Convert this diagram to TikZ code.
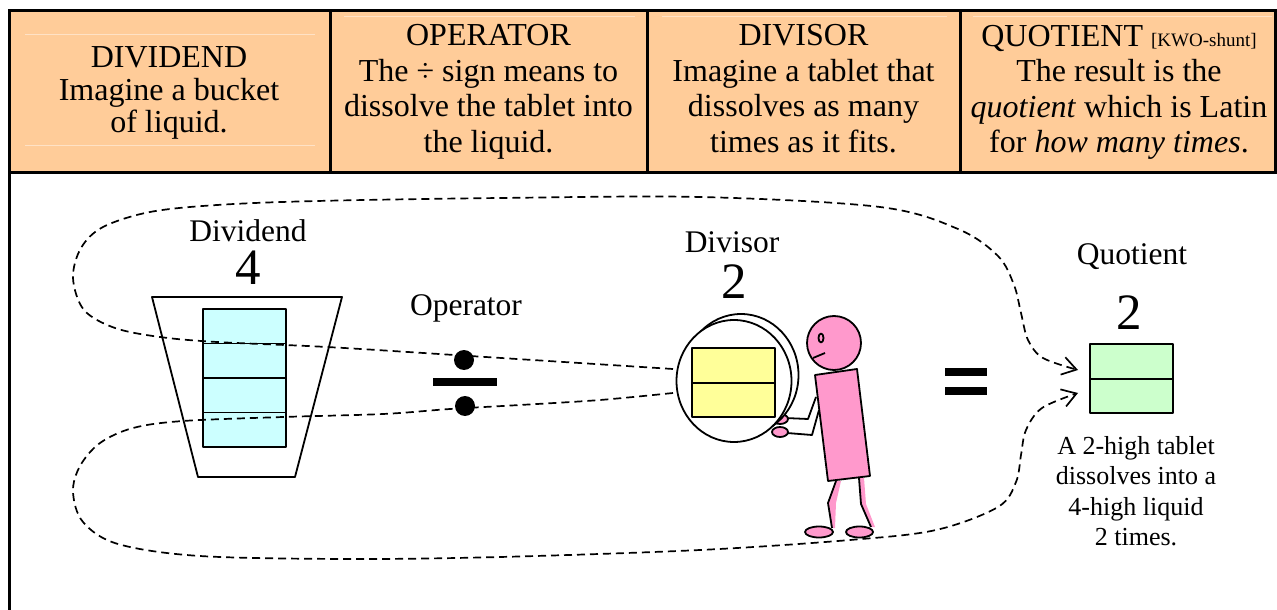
\documentclass[tikz,border=0pt]{standalone}
\usepackage{fontspec}
\setmainfont{Liberation Serif}
\usetikzlibrary{arrows.meta}
\definecolor{peach}{HTML}{FFCC99}
\definecolor{peachline}{HTML}{FFE2C6}
\definecolor{liquid}{HTML}{CCFFFF}
\definecolor{tablet}{HTML}{FFFF99}
\definecolor{result}{HTML}{CCFFCC}
\definecolor{skin}{HTML}{FF99CC}
\begin{document}
\begin{tikzpicture}[x=1bp,y=-1bp,
  hdrtext/.style={align=center, inner sep=0pt, font=\fontsize{32bp}{35.5bp}\selectfont},
  lbl/.style={anchor=base, inner sep=0pt, font=\fontsize{31.5bp}{36bp}\selectfont},
  bignum/.style={anchor=base, inner sep=0pt, font=\fontsize{51bp}{51bp}\selectfont},
  note/.style={align=center, inner sep=0pt, font=\fontsize{26bp}{30.5bp}\selectfont},
  rule/.style={line width=3bp},
  faint/.style={draw=peachline, line width=1bp},
  outline/.style={draw=black, line width=1.8bp, line join=round},
  flow/.style={line width=1.7bp, dash pattern=on 8bp off 5bp,
    -{Straight Barb[length=14bp,width=18bp]}},
]
\useasboundingbox (0,0) rectangle (1277,610);

% ---------- header row ----------
\fill[peach] (9.5,11) rectangle (1275.5,173);
\draw[faint] (25,35) -- (315,35);
\draw[faint] (25,146) -- (315,146);
\draw[faint] (344,17) -- (635,17);
\draw[faint] (662,17) -- (947,17);
\draw[faint] (973,17) -- (1272,17);

\node[hdrtext, font=\fontsize{32bp}{32.5bp}\selectfont] (h1) at (169,93) {DIVIDEND\\Imagine a bucket\\of liquid.};
\node[hdrtext] (h2) at (488.5,92) {OPERATOR\\The ÷ sign means to\\dissolve the tablet into\\the liquid.};
\node[hdrtext] (h3) at (803.5,88.5) {DIVISOR\\Imagine a tablet that\\dissolves as many\\times as it fits.};
\node[hdrtext] (h4) at (1119,92.5) {QUOTIENT {\fontsize{19bp}{20bp}\selectfont [KWO-shunt]}\\The result is the\\\emph{quotient} which is Latin\\for \emph{how many times}.};

% table rules
\draw[rule] (8,11) -- (1277,11);
\draw[rule] (8,173) -- (1277,173);
\draw[rule] (9.5,11) -- (9.5,610);
\draw[rule] (1275.5,11) -- (1275.5,173);
\draw[rule] (330,11) -- (330,173);
\draw[rule] (647,11) -- (647,173);
\draw[rule] (960,11) -- (960,173);

% ---------- dividend: bucket with four units of liquid ----------
\node[lbl] (lblDividend) at (248,242) {Dividend};
\node[bignum] (numDividend) at (248,285) {4};
\draw[outline, fill=white] (152,297) -- (342,297) -- (295,477) -- (198,477) -- cycle;
\foreach \t in {309,343.5,378,412.5}
  \draw[outline, fill=liquid] (203,\t) rectangle (286,\t+34.5);

% ---------- operator ----------
\node[lbl] (lblOperator) at (466,316) {Operator};
\fill (464,360) circle [radius=10];
\fill (433,378) rectangle (497,386);
\fill (465,406) circle [radius=10];

% ---------- divisor: person holding a disk ----------
\node[lbl] (lblDivisor) at (732,253) {Divisor};
\node[bignum] (numDivisor) at (734,299) {2};

% arms and hands
\draw[outline] (816,397) -- (808,419) -- (785,418);
\draw[outline] (819,410) -- (812,435) -- (787,433);
\draw[outline, fill=skin] (780,419) ellipse [x radius=8, y radius=5];
\draw[outline, fill=skin] (780,432) ellipse [x radius=8, y radius=5];

% disk (rim behind, face in front)
\coordinate (disk) at (734,381);
\draw[outline, fill=white] (741,375) ellipse [x radius=57.5, y radius=61];
\draw[outline, fill=white] (disk) ellipse [x radius=57.5, y radius=61];
\draw[outline, fill=tablet] (692,348) rectangle (775,383);
\draw[outline, fill=tablet] (692,383) rectangle (775,417);

% legs
\fill[skin] (836,481) -- (841,481) -- (836,503) -- (835,528) -- (832,528) -- (828,503) -- cycle;
\fill[skin] (859,478) -- (864,478) -- (866,504) -- (875,527) -- (871,527) -- (861,504) -- cycle;
\draw[outline] (836,481) -- (828,503) -- (832,528);
\draw[outline] (859,478) -- (861,504) -- (871,527);
\draw[outline, fill=skin] (819,532) ellipse [x radius=14, y radius=5.5];
\draw[outline, fill=skin] (859.5,532) ellipse [x radius=13.5, y radius=5.5];

% head and body
\draw[outline, fill=skin] (834,343) circle [radius=27];
\draw[outline] (821,338) ellipse [x radius=2.5, y radius=4.5];
\draw[outline] (813,358) -- (825,353);
\draw[outline, fill=skin] (815,375) -- (857,369) -- (870,476) -- (828,481) -- cycle;

% ---------- equals ----------
\fill (945,368) rectangle (987,376);
\fill (945,387) rectangle (987,395);

% ---------- quotient ----------
\node[lbl] (lblQuotient) at (1132,265) {Quotient};
\node[bignum] (numQuotient) at (1129,330) {2};
\draw[outline, fill=result] (1090,344) rectangle (1173,379);
\draw[outline, fill=result] (1090,379) rectangle (1173,413);
\node[note] (caption) at (1136,491) {A 2-high tablet\\dissolves into a\\4-high liquid\\2 times.};

% ---------- dashed paths from the tablet to the quotient ----------
\coordinate (outA) at ([shift={(-61,-12)}]disk);
\coordinate (outB) at ([shift={(-61,12)}]disk);
\coordinate (inA) at (1078,370);
\coordinate (inB) at (1078,393);

\draw[flow] plot[smooth, tension=0.55] coordinates {
  (outA) (470,356) (327,347) (217,342) (160,337) (115,328) (84,310)
  (73,278) (81,248) (103,227) (150,212) (217,205) (317,201) (500,198)
  (700,197) (880,207) (958,229) (998,256) (1014,285) (1021,313)
  (1028,340) (1043,358) (inA)};

\draw[flow] plot[smooth, tension=0.55] coordinates {
  (outB) (600,400) (520,405) (450,409) (383,414) (283,417) (183,421)
  (133,428) (100,443) (80,466) (73,492) (83,522) (118,544) (200,556)
  (350,559) (500,557) (700,550) (850,540) (936,530) (998,507)
  (1016,482) (1021,455) (1026,430) (1042,408) (inB)};

\end{tikzpicture}
\end{document}
